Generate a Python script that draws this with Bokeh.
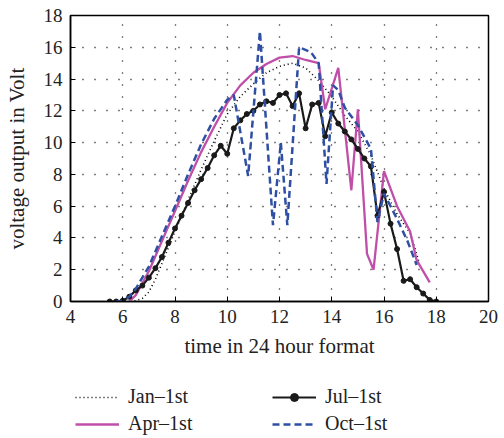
from bokeh.plotting import figure
from bokeh.models import Legend, LegendItem, Range1d, FixedTicker
from bokeh.layouts import column
from bokeh.embed import file_html
from bokeh.resources import INLINE

# ---- data ----
jan_x = [6.3, 6.5, 6.75, 7.0, 7.25, 7.5, 7.75, 8.0, 8.5, 9.0, 9.5, 10.0, 10.5, 11.0,
         11.5, 12.0, 12.5, 13.0, 13.5, 14.0, 14.5, 15.0, 15.5, 16.0, 16.5, 17.0, 17.25, 17.35]
jan_y = [0, 0.05, 0.2, 0.6, 1.4, 2.4, 3.4, 4.4, 6.4, 8.3, 10.1, 11.8, 12.9, 13.7,
         14.4, 14.8, 15.0, 14.7, 13.9, 12.9, 11.7, 10.7, 9.2, 7.1, 5.5, 4.3, 3.0, 2.4]

apr_x = [6.25, 6.5, 7.0, 7.5, 8.0, 8.5, 9.0, 9.5, 10.0, 10.5, 11.0, 11.5, 12.0, 12.5,
         13.0, 13.5, 13.75, 14.25, 14.75, 15.0, 15.35, 15.6, 16.0, 16.5, 17.0, 17.25, 17.75]
apr_y = [0, 0.4, 1.9, 3.8, 5.7, 7.6, 9.4, 11.0, 12.5, 13.6, 14.4, 14.95, 15.35, 15.45,
         15.2, 15.0, 12.1, 14.7, 7.0, 12.1, 3.0, 2.0, 8.2, 6.0, 4.4, 2.6, 1.2]

jul_x = [5.5, 5.75, 6.0, 6.25, 6.5, 6.75, 7.0, 7.25, 7.5, 7.75, 8.0, 8.25, 8.5, 8.75,
         9.0, 9.25, 9.5, 9.75, 10.0, 10.25, 10.5, 10.75, 11.0, 11.25, 11.5, 11.75, 12.0,
         12.25, 12.5, 12.75, 13.0, 13.25, 13.5, 13.75, 14.0, 14.25, 14.5, 14.75, 15.0,
         15.25, 15.5, 15.75, 16.0, 16.25, 16.5, 16.75, 17.0, 17.25, 17.5, 17.75, 18.0]
jul_y = [0, 0, 0.05, 0.3, 0.7, 1.0, 1.5, 2.1, 2.8, 3.7, 4.6, 5.4, 6.2, 7.0,
         7.7, 8.4, 9.2, 9.8, 9.3, 10.9, 11.4, 11.8, 12.0, 12.4, 12.6, 12.5, 13.0,
         13.1, 12.3, 13.1, 10.9, 12.4, 12.5, 10.4, 11.9, 11.2, 10.7, 10.2, 9.6,
         9.0, 8.5, 5.4, 6.9, 4.9, 3.3, 1.3, 1.4, 0.9, 0.5, 0.1, 0.0]

oct_x = [5.75, 6.0, 6.25, 6.5, 7.0, 7.5, 8.0, 8.5, 9.0, 9.5, 10.0, 10.25, 10.8, 11.25,
         11.75, 12.05, 12.3, 12.75, 13.2, 13.5, 13.8, 14.05, 14.25, 14.5, 15.0, 15.5,
         15.75, 16.0, 16.5, 16.9, 17.25]
oct_y = [0, 0.05, 0.3, 0.8, 2.2, 4.1, 6.0, 8.0, 9.9, 11.5, 12.7, 13.0, 7.9, 17.0,
         4.8, 10.0, 4.8, 16.0, 15.7, 15.0, 7.4, 13.6, 13.3, 12.2, 11.1, 9.6,
         5.0, 6.8, 5.2, 3.8, 2.3]

x_ticks = [4, 6, 8, 10, 12, 14, 16, 18, 20]
y_ticks = [0, 2, 4, 6, 8, 10, 12, 14, 16, 18]
labels = ["Jan\u20131st", "Apr\u20131st", "Jul\u20131st", "Oct\u20131st"]

FONT = "Liberation Serif"
TICK_FS = "19px"
LABEL_FS = "21px"
LEG_FS = "20px"
TXT = "#222222"

STY_JAN = dict(line_color="black", line_width=1.6, line_dash="1 3")
STY_APR = dict(line_color="#bf4fa8", line_width=2.3)
STY_JUL = dict(line_color="#1a1a1a", line_width=2.2)
STY_OCT = dict(line_color="#2e4fa3", line_width=2.5, line_dash="7 4")

p = figure(frame_width=418, frame_height=286,
           x_range=Range1d(4, 20), y_range=Range1d(0, 18),
           output_backend="svg", toolbar_location=None,
           min_border_left=70, min_border_top=15, min_border_right=12,
           min_border_bottom=64)
p.background_fill_color = "white"
p.border_fill_color = "white"
p.outline_line_color = "black"
p.outline_line_width = 1.5

for ax, tk in ((p.xaxis[0], x_ticks), (p.yaxis[0], y_ticks)):
    ax.ticker = FixedTicker(ticks=tk)
    ax.major_tick_in = 5
    ax.major_tick_out = 0
    ax.minor_tick_line_color = None
    ax.axis_line_color = "black"
    ax.axis_line_width = 1.5
    ax.major_tick_line_color = "black"
    ax.major_label_text_font = FONT
    ax.major_label_text_font_size = TICK_FS
    ax.major_label_text_color = TXT
    ax.axis_label_text_font = FONT
    ax.axis_label_text_font_size = LABEL_FS
    ax.axis_label_text_font_style = "normal"
    ax.axis_label_text_color = TXT
    ax.major_label_standoff = 8

p.xaxis.axis_label = "time in 24 hour format"
p.yaxis.axis_label = "voltage output in Volt"
p.xaxis.axis_label_standoff = 8
p.yaxis.axis_label_standoff = 12

for g, tk in ((p.xgrid[0], x_ticks), (p.ygrid[0], y_ticks)):
    g.ticker = FixedTicker(ticks=tk)
    g.grid_line_color = "black"
    g.grid_line_dash = "1 11"
    g.grid_line_width = 1.3

p.line(jan_x, jan_y, **STY_JAN)
p.line(apr_x, apr_y, **STY_APR)
p.line(jul_x, jul_y, **STY_JUL)
p.scatter(jul_x, jul_y, size=5, color="#1a1a1a")
p.line(oct_x, oct_y, **STY_OCT)

# ---- legend panel below the chart (its own ranges keep the series out of view) ----
lg = figure(width=500, height=71, x_range=Range1d(-1, 0), y_range=Range1d(-1, 0),
            output_backend="svg", toolbar_location=None,
            x_axis_type=None, y_axis_type=None,
            min_border_left=0, min_border_right=0, min_border_top=0, min_border_bottom=0)
lg.outline_line_color = None
lg.grid.visible = False
lg.background_fill_color = "white"
lg.border_fill_color = "white"

k_jan = lg.line(jan_x, jan_y, **STY_JAN)
k_apr = lg.line(apr_x, apr_y, **STY_APR)
k_jul = lg.line(jul_x, jul_y, **STY_JUL)
k_julm = lg.scatter(jul_x, jul_y, size=3, color="#1a1a1a")
k_oct = lg.line(oct_x, oct_y, **STY_OCT)

legend = Legend(items=[
    LegendItem(label=labels[0], renderers=[k_jan]),
    LegendItem(label=labels[1], renderers=[k_apr]),
    LegendItem(label=labels[2], renderers=[k_jul, k_julm]),
    LegendItem(label=labels[3], renderers=[k_oct]),
], location=(5, 1), nrows=2, orientation="vertical",
    border_line_color=None, background_fill_alpha=0,
    label_text_font=FONT, label_text_font_size=LEG_FS, label_text_color=TXT,
    glyph_width=44, glyph_height=20, label_height=20, label_width=140,
    label_standoff=9, spacing=4, padding=0, margin=0)
lg.add_layout(legend, "center")

open("out.html", "w").write(file_html(column(p, lg, spacing=0), INLINE))
